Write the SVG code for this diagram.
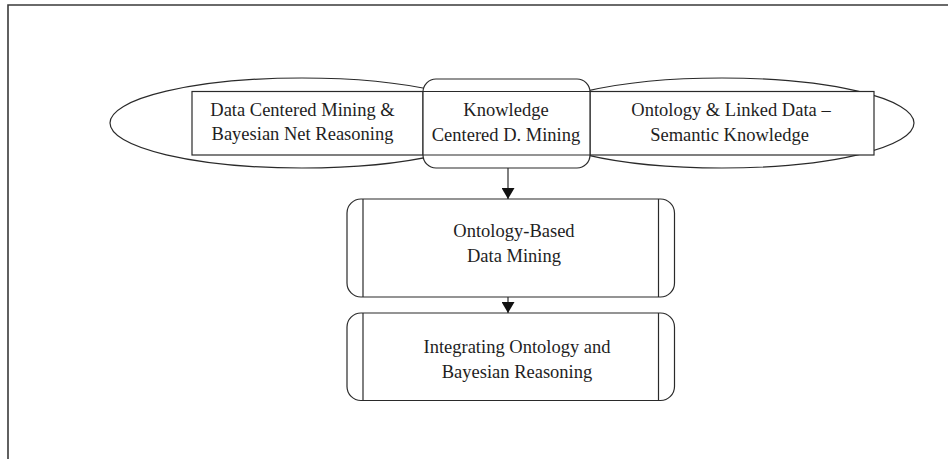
<svg xmlns="http://www.w3.org/2000/svg" width="948" height="459" viewBox="0 0 948 459">
  <style>
    .shape { fill: #ffffff; stroke: #2a2a2a; stroke-width: 1.2; }
    .line { fill: none; stroke: #2a2a2a; stroke-width: 1.2; }
    .frame { fill: none; stroke: #3a3a3a; stroke-width: 1.6; }
    text { font-family: "Liberation Serif", "Times New Roman", serif; font-size: 18.5px; fill: #1e1e1e; text-anchor: middle; }
  </style>
  <defs>
    <marker id="arrowhead" markerWidth="11" markerHeight="13" refX="11" refY="6.5" orient="auto" markerUnits="userSpaceOnUse">
      <path d="M0,0 L11,6.5 L0,13 Z" fill="#111111"/>
    </marker>
  </defs>

  <rect width="948" height="459" fill="#ffffff"/>

  <!-- outer frame (top and left edges) -->
  <path class="frame" d="M8,459 L8,5 L948,5"/>

  <!-- left ellipse with data-centered box -->
  <g id="data-centered-mining">
    <ellipse class="shape" cx="302" cy="123" rx="192" ry="45"/>
    <rect class="shape" x="192" y="91.5" width="231" height="63.5"/>
    <text x="302.5" y="116">Data Centered Mining &amp;</text>
    <text x="302.5" y="140">Bayesian Net Reasoning</text>
  </g>

  <!-- right ellipse with semantic knowledge box -->
  <g id="ontology-linked-data">
    <ellipse class="shape" cx="722" cy="123" rx="192" ry="45"/>
    <rect class="shape" x="590" y="91.5" width="284" height="63.5"/>
    <text x="731" y="116">Ontology &amp; Linked Data –</text>
    <text x="729.5" y="140.5">Semantic Knowledge</text>
  </g>

  <!-- central knowledge box bridging both ellipses -->
  <g id="knowledge-centered-mining">
    <rect class="shape" x="423" y="79" width="167" height="89" rx="13" ry="13"/>
    <line class="line" x1="423" y1="91.5" x2="590" y2="91.5"/>
    <line class="line" x1="423" y1="155" x2="590" y2="155"/>
    <text x="506" y="116">Knowledge</text>
    <text x="506" y="140.5">Centered D. Mining</text>
  </g>

  <g id="ontology-based-mining">
    <rect class="shape" x="347" y="199" width="327.5" height="98" rx="14" ry="14"/>
    <line class="line" x1="363" y1="199" x2="363" y2="297"/>
    <line class="line" x1="658.5" y1="199" x2="658.5" y2="297"/>
    <text x="514" y="237">Ontology-Based</text>
    <text x="514" y="261.5">Data Mining</text>
  </g>

  <g id="ontology-bayesian-integration">
    <rect class="shape" x="347" y="313" width="327.5" height="87.5" rx="14" ry="14"/>
    <line class="line" x1="363" y1="313" x2="363" y2="400.5"/>
    <line class="line" x1="658.5" y1="313" x2="658.5" y2="400.5"/>
    <text x="517" y="353">Integrating Ontology and</text>
    <text x="517" y="377.5">Bayesian Reasoning</text>
  </g>

  <g id="connectors">
    <line class="line" x1="508" y1="168" x2="508" y2="199" marker-end="url(#arrowhead)"/>
    <line class="line" x1="508" y1="297" x2="508" y2="313" marker-end="url(#arrowhead)"/>
  </g>
</svg>
